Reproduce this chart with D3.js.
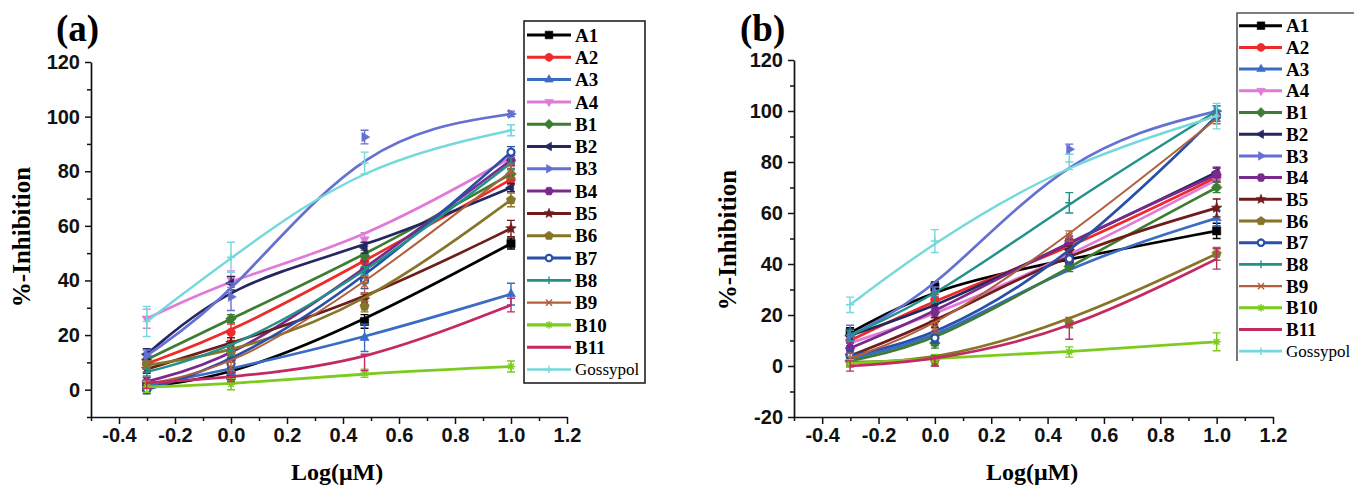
<!DOCTYPE html>
<html><head><meta charset="utf-8">
<script src="https://cdn.jsdelivr.net/npm/d3@7"></script>
<style>body{margin:0;background:#fff} svg{display:block}</style>
</head><body>
<svg id="chart" width="1354" height="486"></svg>
<script>
// ---------------- DATA ----------------
const seriesNames = ["A1","A2","A3","A4","B1","B2","B3","B4","B5","B6","B7","B8","B9","B10","B11","Gossypol"];
const xValues = [-0.301, 0, 0.477, 1];
const xTickValues = [-0.4, -0.2, 0, 0.2, 0.4, 0.6, 0.8, 1.0, 1.2];
const xMinorTicks = [-0.5, -0.3, -0.1, 0.1, 0.3, 0.5, 0.7, 0.9, 1.1];
const yTicksA = [0, 20, 40, 60, 80, 100, 120];
const yMinorA = [-10, 10, 30, 50, 70, 90, 110];
const yTicksB = [-20, 0, 20, 40, 60, 80, 100, 120];
const yMinorB = [-10, 10, 30, 50, 70, 90, 110];

// panel (a): % inhibition at log concentrations
const valuesA = [
  [1, 5, 25, 53.5],     // A1
  [9.5, 21, 47, 77],    // A2
  [1.5, 7.5, 19, 35],   // A3
  [26, 40.5, 55, 85],   // A4
  [11, 26, 49, 79],     // B1
  [13, 39, 52, 74],     // B2
  [12.5, 34, 92.5, 101],// B3
  [3, 11, 44, 84],      // B4
  [7.5, 17, 33, 59],    // B5
  [9, 13.5, 30.5, 69.5],// B6
  [0, 9.5, 40, 87],     // B7
  [6.5, 14.5, 42, 83],  // B8
  [2, 8, 38.5, 80],     // B9
  [1, 2, 6, 8.5],       // B10
  [2.5, 4.5, 10, 31],   // B11
  [25, 48.5, 83, 95]    // Gossypol
];
const errorsA = [
  [1.5, 3, 2.5, 2], [2, 3, 2.5, 2], [1.5, 2, 5, 4], [3.5, 3, 2.5, 2],
  [1.5, 1.5, 2, 1.5], [2, 2.5, 2, 1.5], [2, 5, 2.5, 1], [1.5, 2, 3, 2],
  [1.5, 2, 2, 3], [1.5, 2, 2, 2.5], [1.5, 2, 3, 2], [1.5, 2, 3, 2],
  [1.5, 2, 3, 2.5], [2, 2, 1.5, 2], [2, 1.5, 3, 2.5], [5.5, 5.5, 4, 2]
];
// panel (b)
const valuesB = [
  [13, 31, 42, 53],     // A1
  [10, 26, 46, 74],     // A2
  [3, 10, 40, 58],      // A3
  [9, 20, 43, 73],      // A4
  [2, 9, 39, 70],       // B1
  [12, 23, 48, 76],     // B2
  [12, 29, 85, 100],    // B3
  [7, 21, 49, 75],      // B4
  [4, 17, 45, 62],      // B5
  [1.5, 2, 17, 44],     // B6
  [4, 11, 42, 98],      // B7
  [12, 27, 64, 100],    // B8
  [3, 15, 51, 97],      // B9
  [1, 3, 5.5, 9.5],     // B10
  [0, 2, 13.5, 42],     // B11
  [24, 49, 80, 98]      // Gossypol
];
const errorsB = [
  [2, 2, 2, 3], [2, 2, 3, 2], [2, 2, 2, 3], [2, 2, 2, 2],
  [2, 2, 2, 2], [2, 2, 2, 2], [4, 2, 2, 2], [2, 2, 2, 2.5],
  [2, 2, 2, 3.5], [1.5, 2, 2, 2.5], [2, 2, 2, 2], [2, 2, 4, 2],
  [2, 2, 2, 2], [1.5, 1.5, 2, 3.5], [2, 2, 3, 4], [3, 4.5, 3, 5]
];

// ---------------- STYLE ----------------
const colors = ["#000000","#ee2a2a","#3a6cc6","#e07ad8","#3d7d32","#262660","#6470d2","#7a2a8c",
                "#6e1c1c","#867428","#2850a8","#21918a","#b0603c","#7ccc1e","#c42a62","#74d8dc"];
const markers = ["square","circle","triUp","triDown","diamond","triLeft","triRight","hexagon",
                 "star","pentagon","openCircle","plus","times","asterisk","none","plus"];
const lineWidths = [2.7,2.7,2.7,2.7,2.7,2.7,2.7,2.7,2.7,2.7,2.7,2.4,2,2.8,2.7,2.4];
const SERIF = "'Liberation Serif','Times New Roman',serif";
const SANS = "'Liberation Sans',Arial,sans-serif";

const svg = d3.select('#chart');

function poly(n, r, rotDeg) {
  const pts = d3.range(n).map(i => {
    const a = (rotDeg + i * 360 / n) * Math.PI / 180;
    return [r * Math.cos(a), r * Math.sin(a)];
  });
  return 'M' + pts.map(p => p.join(',')).join('L') + 'Z';
}
function star(r) {
  const pts = d3.range(10).map(i => {
    const a = (-90 + i * 36) * Math.PI / 180, rr = i % 2 ? r * 0.45 : r;
    return [rr * Math.cos(a), rr * Math.sin(a)];
  });
  return 'M' + pts.map(p => p.join(',')).join('L') + 'Z';
}
function markerInfo(type, r) {
  switch (type) {
    case 'square': return {d: `M${-r},${-r}H${r}V${r}H${-r}Z`, fill: true};
    case 'circle': return {d: poly(24, r * 1.05, 0), fill: true};
    case 'triUp': return {d: poly(3, r * 1.3, -90), fill: true};
    case 'triDown': return {d: poly(3, r * 1.3, 90), fill: true};
    case 'triLeft': return {d: poly(3, r * 1.3, 180), fill: true};
    case 'triRight': return {d: poly(3, r * 1.3, 0), fill: true};
    case 'diamond': return {d: poly(4, r * 1.3, -90), fill: true};
    case 'hexagon': return {d: poly(6, r * 1.15, 0), fill: true};
    case 'pentagon': return {d: poly(5, r * 1.2, -90), fill: true};
    case 'star': return {d: star(r * 1.35), fill: true};
    case 'openCircle': return {d: poly(24, r * 0.85, 0), fill: false, open: true};
    case 'plus': return {d: `M${-r},0H${r}M0,${-r}V${r}`, fill: false};
    case 'times': return {d: `M${-r*0.8},${-r*0.8}L${r*0.8},${r*0.8}M${-r*0.8},${r*0.8}L${r*0.8},${-r*0.8}`, fill: false};
    case 'asterisk': return {d: `M${-r},0H${r}M0,${-r}V${r}M${-r*0.7},${-r*0.7}L${r*0.7},${r*0.7}M${-r*0.7},${r*0.7}L${r*0.7},${-r*0.7}`, fill: false};
    default: return null;
  }
}
function drawMarker(g, type, color, cx, cy, r) {
  const m = markerInfo(type, r);
  if (!m) return;
  const p = g.append('path').attr('d', m.d).attr('transform', `translate(${cx},${cy})`);
  if (m.fill) p.attr('fill', color).attr('stroke', color).attr('stroke-width', 0.6);
  else if (m.open) p.attr('fill', '#fff').attr('stroke', color).attr('stroke-width', 2.2);
  else p.attr('fill', 'none').attr('stroke', color).attr('stroke-width', 1.4);
}

const panels = [
  {values: valuesA, errors: errorsA, left: 91, right: 567, top: 62, bottom: 417,
   yDomain: [-10, 120], yTicks: yTicksA, yMinor: yMinorA, label: '(a)', labelX: 56,
   yTitleX: 30, yTitleY: 237, xTitleX: 337, xTitleY: 480,
   legend: {x0: 524, y0: 21, w: 121, h: 362, lineX1: 527, lineX2: 571, mx: 549, tx: 575, first: 35, step: 22.3, full: true}},
  {values: valuesB, errors: errorsB, left: 794, right: 1273, top: 60, bottom: 417,
   yDomain: [-20, 120], yTicks: yTicksB, yMinor: yMinorB, label: '(b)', labelX: 740,
   yTitleX: 736, yTitleY: 240, xTitleX: 1032, xTitleY: 480,
   legend: {x0: 1237, y0: 13, w: 130, h: 348, lineX1: 1239, lineX2: 1282, mx: 1261, tx: 1286, first: 25.7, step: 21.7, full: false}}
];

panels.forEach(p => {
  const x = d3.scaleLinear().domain([-0.5, 1.2]).range([p.left, p.right]);
  const y = d3.scaleLinear().domain(p.yDomain).range([p.bottom, p.top]);
  const g = svg.append('g');

  // minor ticks
  const xMinor = g.append('g').attr('transform', `translate(0,${p.bottom})`)
    .call(d3.axisBottom(x).tickValues(xMinorTicks).tickSize(4).tickSizeOuter(0).tickFormat(''));
  xMinor.select('.domain').remove();
  const yMin = g.append('g').attr('transform', `translate(${p.left},0)`)
    .call(d3.axisLeft(y).tickValues(p.yMinor).tickSize(4).tickSizeOuter(0).tickFormat(''));
  yMin.select('.domain').remove();

  // major axes
  const xAx = g.append('g').attr('transform', `translate(0,${p.bottom})`)
    .call(d3.axisBottom(x).tickValues(xTickValues).tickSize(7).tickSizeOuter(0).tickPadding(4)
      .tickFormat(d => d.toFixed(1)));
  const yAx = g.append('g').attr('transform', `translate(${p.left},0)`)
    .call(d3.axisLeft(y).tickValues(p.yTicks).tickSize(6).tickSizeOuter(0).tickPadding(5)
      .tickFormat(d => String(d)));
  [xAx, yAx, xMinor, yMin].forEach(a => {
    a.selectAll('line').attr('stroke', '#111').attr('stroke-width', 1.5);
    a.selectAll('.domain').attr('stroke', '#111').attr('stroke-width', 1.7);
    a.selectAll('text').attr('fill', '#111').style('font-family', SANS)
      .style('font-weight', 'bold').style('font-size', '20px');
  });

  // series
  const line = d3.line().curve(d3.curveBasis).x((d, i) => x(xValues[i])).y(d => y(d));
  const sg = g.append('g');
  p.values.forEach((vals, s) => {
    const c = colors[s];
    const ss = sg.append('g');
    ss.append('path').attr('d', line(vals)).attr('fill', 'none').attr('stroke', c)
      .attr('stroke-width', lineWidths[s]).attr('stroke-linejoin', 'round');
    vals.forEach((v, i) => {
      const e = p.errors[s][i];
      const cx = x(xValues[i]), y1 = y(v - e), y2 = y(v + e);
      ss.append('path').attr('d', `M${cx},${y1}V${y2}M${cx - 4},${y1}H${cx + 4}M${cx - 4},${y2}H${cx + 4}`)
        .attr('stroke', c).attr('stroke-width', 1.4).attr('fill', 'none');
      drawMarker(ss, markers[s], c, cx, y(v), 4.1);
    });
  });

  // titles
  g.append('text').attr('x', p.labelX).attr('y', 41).text(p.label)
    .style('font-family', SERIF).style('font-weight', 'bold').style('font-size', '37px');
  g.append('text').attr('transform', `translate(${p.yTitleX},${p.yTitleY}) rotate(-90)`)
    .attr('text-anchor', 'middle').text('%-Inhibition')
    .style('font-family', SERIF).style('font-weight', 'bold').style('font-size', '25px');
  g.append('text').attr('x', p.xTitleX).attr('y', p.xTitleY).attr('text-anchor', 'middle').text('Log(μM)')
    .style('font-family', SERIF).style('font-weight', 'bold').style('font-size', '24px');

  // legend
  const L = p.legend;
  const lg = svg.append('g');
  if (L.full) {
    lg.append('rect').attr('x', L.x0).attr('y', L.y0).attr('width', L.w).attr('height', L.h)
      .attr('fill', '#fff').attr('stroke', '#222').attr('stroke-width', 1.6);
  } else {
    lg.append('rect').attr('x', L.x0).attr('y', L.y0).attr('width', L.w).attr('height', L.h).attr('fill', '#fff');
    lg.append('path').attr('d', `M${L.x0},${L.y0 + L.h}V${L.y0}H1354`).attr('fill', 'none')
      .attr('stroke', '#555').attr('stroke-width', 1.6);
  }
  seriesNames.forEach((name, s) => {
    const yy = L.first + s * L.step;
    lg.append('line').attr('x1', L.lineX1).attr('x2', L.lineX2).attr('y1', yy).attr('y2', yy)
      .attr('stroke', colors[s]).attr('stroke-width', lineWidths[s] + 0.3);
    drawMarker(lg, markers[s], colors[s], L.mx, yy, 3.8);
    lg.append('text').attr('x', L.tx).attr('y', yy).attr('dy', '0.35em').text(name)
      .style('font-family', SERIF)
      .style('font-weight', name === 'Gossypol' ? 'normal' : 'bold')
      .style('font-size', name === 'Gossypol' ? '17px' : '19px');
  });
});
</script>
</body></html>
